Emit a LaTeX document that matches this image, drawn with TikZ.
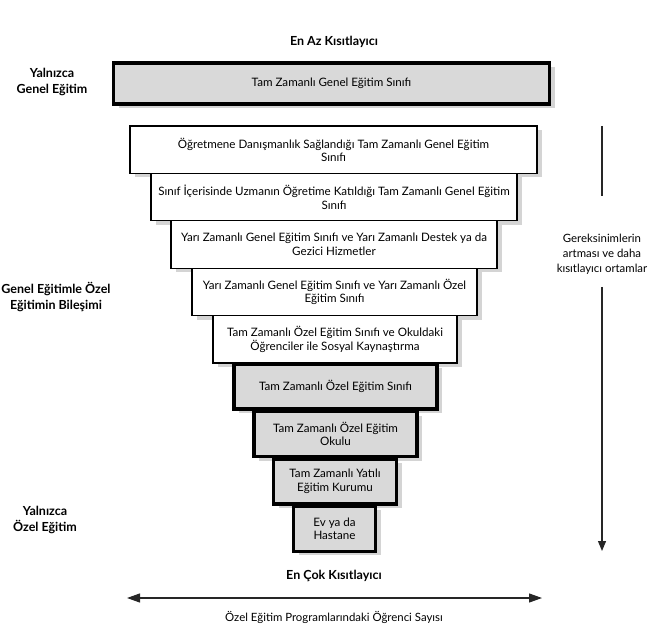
\documentclass[tikz,border=0pt]{standalone}
\usepackage{fontspec}
\setmainfont{Lato}
\usetikzlibrary{arrows.meta,shadows}
\definecolor{boxgrey}{HTML}{D9D9D9}
\definecolor{shadowgrey}{HTML}{D4D4D4}
\tikzset{
  tier/.style={draw=black, align=center, font=\fontsize{11.6}{13.5}\selectfont, inner sep=2pt,
    drop shadow={shadow xshift=5pt, shadow yshift=-4pt, fill=shadowgrey, opacity=1}},
  wbox/.style={tier, fill=white, line width=1.2pt},
  gbox/.style={tier, fill=boxgrey, line width=3.6pt},
  sidelabel/.style={align=center, font=\fontsize{12.5}{16}\selectfont\bfseries},
  toplabel/.style={font=\fontsize{12.5}{14}\selectfont\bfseries},
  note/.style={align=center, font=\fontsize{11.4}{15}\selectfont},
  arr/.style={line width=1.2pt, draw=black!85},
}
\begin{document}
\begin{tikzpicture}[x=1pt,y=-1pt]
\useasboundingbox (0,0) rectangle (656,628);
% labels
\node[toplabel] (least) at (334,42) {En Az Kısıtlayıcı};
\node[toplabel] (most) at (334,576) {En Çok Kısıtlayıcı};
\node[sidelabel] (gen) at (52,82) {Yalnızca\\Genel Eğitim};
\node[sidelabel] (mix) at (56,297) {Genel Eğitimle Özel\\Eğitimin Bileşimi};
\node[sidelabel] (spec) at (45,520) {Yalnızca\\Özel Eğitim};
% boxes
\node[gbox, minimum width=436, minimum height=40.5] (b1) at (331.5,83.5) {Tam Zamanlı Genel Eğitim Sınıfı};
\node[wbox, minimum width=407, minimum height=47.4] (b2) at (333.5,149.7) {Öğretmene Danışmanlık Sağlandığı Tam Zamanlı Genel Eğitim\\Sınıfı};
\node[wbox, minimum width=366, minimum height=47.4] (b3) at (334,197.1) {Sınıf İçerisinde Uzmanın Öğretime Katıldığı Tam Zamanlı Genel Eğitim\\Sınıfı};
\node[wbox, minimum width=326, minimum height=47.4] (b4) at (334,244.5) {Yarı Zamanlı Genel Eğitim Sınıfı ve Yarı Zamanlı Destek ya da\\Gezici Hizmetler};
\node[wbox, minimum width=285, minimum height=47.4] (b5) at (334.5,291.9) {Yarı Zamanlı Genel Eğitim Sınıfı ve Yarı Zamanlı Özel\\Eğitim Sınıfı};
\node[wbox, minimum width=244, minimum height=47.4] (b6) at (335,339.3) {Tam Zamanlı Özel Eğitim Sınıfı ve Okuldaki\\Öğrenciler ile Sosyal Kaynaştırma};
\node[gbox, minimum width=203, minimum height=45] (b7) at (335.5,386.7) {Tam Zamanlı Özel Eğitim Sınıfı};
\node[gbox, minimum width=163, minimum height=45] (b8) at (335.5,434.1) {Tam Zamanlı Özel Eğitim\\Okulu};
\node[gbox, minimum width=123, minimum height=45] (b9) at (335,481.5) {Tam Zamanlı Yatılı\\Eğitim Kurumu};
\node[gbox, minimum width=82, minimum height=45] (b10) at (334.5,528.9) {Ev ya da\\Hastane};
% right arrow
\coordinate (vtop) at (602,126);
\coordinate (vbot) at (602,551);
\node[note, inner sep=0pt] (need) at (602,254) {Gereksinimlerin\\artması ve daha\\kısıtlayıcı ortamlar};
\coordinate (vmid1) at (602,196);
\coordinate (vmid2) at (602,287);
\draw[arr] (vtop) -- (vmid1);
\draw[arr, -{Triangle[width=8pt,length=10pt]}] (vmid2) -- (vbot);
% bottom arrow
\coordinate (hl) at (127,598);
\coordinate (hr) at (542,598);
\draw[arr, {Triangle[width=9pt,length=13pt]}-{Triangle[width=9pt,length=13pt]}] (hl) -- (hr);
\node[note] (count) at (334,617) {Özel Eğitim Programlarındaki Öğrenci Sayısı};
\end{tikzpicture}
\end{document}
